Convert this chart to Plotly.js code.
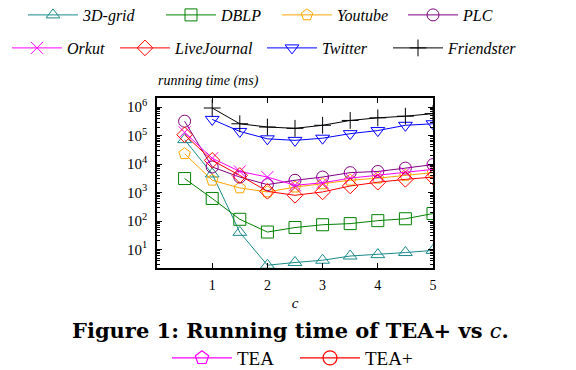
<!DOCTYPE html>
<html>
<head>
<meta charset="utf-8">
<script src="https://cdn.plot.ly/plotly-3.0.1.min.js"></script>
<style>html,body{margin:0;padding:0;background:#fff;}#chart{width:576px;height:370px;}</style>
</head>
<body>
<div id="chart"></div>
<script>
var xsAll = [0.5, 1, 1.5, 2, 2.5, 3, 3.5, 4, 4.5, 5];
var xsLarge = [1, 1.5, 2, 2.5, 3, 3.5, 4, 4.5, 5];

var grid3d      = [72000, 4500, 40, 2.8, 3.5, 4.2, 5.9, 6.6, 7.8, 9.3];
var dblp        = [3100, 620, 115, 41, 59, 74, 81, 103, 120, 183];
var youtube     = [23000, 2700, 1450, 1050, 1550, 2000, 2700, 3200, 4000, 5000];
var plc         = [320000, 7900, 3500, 1900, 2700, 3500, 5000, 5500, 7200, 9600];
var orkut       = [130000, 16000, 5500, 3500, 1800, 2200, 3200, 4000, 5200, 6500];
var livejournal = [107000, 13500, 4000, 1100, 800, 1050, 1700, 2300, 2900, 3500];
var twitter     = [370000, 140000, 77000, 68000, 81000, 117000, 150000, 230000, 260000];
var friendster  = [930000, 260000, 200000, 180000, 230000, 340000, 420000, 480000, 590000];

var yTickVals = [10, 100, 1000, 10000, 100000, 1000000];
var yTickText = ['10<sup>1</sup>', '10<sup>2</sup>', '10<sup>3</sup>', '10<sup>4</sup>', '10<sup>5</sup>', '10<sup>6</sup>'];
var xTickVals = [1, 2, 3, 4, 5];

var yMinorVals = [];
for (var e = 0; e <= 6; e++) {
  for (var m = 2; m <= 9; m++) yMinorVals.push(m * Math.pow(10, e));
}

var serif = '"Liberation Serif", "Times New Roman", serif';
var wideSerif = '"DejaVu Serif", "Liberation Serif", serif';

var series = [
  {name: '3D-grid', x: xsAll, y: grid3d, color: '#1a8a8a', symbol: 'triangle-up-open', legend: 'legend', lx: 28, ly: 15},
  {name: 'DBLP', x: xsAll, y: dblp, color: '#008000', symbol: 'square-open', legend: 'legend2', lx: 166, ly: 15},
  {name: 'Youtube', x: xsAll, y: youtube, color: '#ffa500', symbol: 'pentagon-open', legend: 'legend3', lx: 282, ly: 15},
  {name: 'PLC', x: xsAll, y: plc, color: '#800080', symbol: 'circle-open', legend: 'legend4', lx: 408, ly: 15},
  {name: 'Orkut', x: xsAll, y: orkut, color: '#ff00ff', symbol: 'x-thin-open', legend: 'legend5', lx: 12, ly: 48},
  {name: 'LiveJournal', x: xsAll, y: livejournal, color: '#ff0000', symbol: 'diamond-open', legend: 'legend6', lx: 120, ly: 48},
  {name: 'Twitter', x: xsLarge, y: twitter, color: '#0000ff', symbol: 'triangle-down-open', legend: 'legend7', lx: 267, ly: 48},
  {name: 'Friendster', x: xsLarge, y: friendster, color: '#000000', symbol: 'cross-thin-open', legend: 'legend8', lx: 393, ly: 48}
];

var W = 576, H = 370;
var ML = 157, MR = 143, MT = 98, MB = 102;
var PW = W - ML - MR, PH = H - MT - MB;
function px2paperX(px) { return (px - ML) / PW; }
function px2paperY(py) { return (H - MB - py) / PH; }

var traces = [];
var layout = {
  width: W, height: H,
  margin: {l: ML, r: MR, t: MT, b: MB, autoexpand: false},
  paper_bgcolor: '#fff', plot_bgcolor: '#fff',
  font: {family: serif, color: '#000', size: 14},
  xaxis: {
    type: 'linear', range: [0, 5],
    tickmode: 'array', tickvals: xTickVals,
    ticks: 'inside', ticklen: 5, tickwidth: 1, tickcolor: '#000',
    showline: true, linecolor: '#000', linewidth: 1.7, mirror: 'ticks',
    showgrid: false, zeroline: false, automargin: false,
    ticklabelstandoff: 3,
    tickfont: {family: serif, size: 14},
    title: {text: 'c', font: {family: serif, size: 15, style: 'italic'}, standoff: 6}
  },
  yaxis: {
    type: 'log', range: [0.35, 6.32],
    tickmode: 'array', tickvals: yTickVals, ticktext: yTickText,
    ticks: 'inside', ticklen: 5, tickwidth: 1, tickcolor: '#000',
    minor: {tickmode: 'array', tickvals: yMinorVals, ticks: 'inside', ticklen: 3, tickcolor: '#000', showgrid: false},
    showline: true, linecolor: '#000', linewidth: 1.7, mirror: 'ticks',
    showgrid: false, zeroline: false, automargin: false,
    ticklabelstandoff: 5,
    tickfont: {family: serif, size: 15}
  },
  annotations: [
    {text: 'running time (ms)', xref: 'paper', yref: 'paper', x: px2paperX(156), xanchor: 'left', y: px2paperY(81), yanchor: 'middle',
     showarrow: false, font: {family: serif, size: 14, style: 'italic'}},
    {text: '<b>Figure 1: Running time of TEA+ vs </b><i>c</i><b>.</b>', xref: 'paper', yref: 'paper', x: px2paperX(290), xanchor: 'center', y: px2paperY(330), yanchor: 'middle',
     showarrow: false, font: {family: wideSerif, size: 21}}
  ],
  showlegend: true
};

series.forEach(function (s) {
  traces.push({
    type: 'scatter', mode: 'lines+markers', name: s.name, x: s.x, y: s.y,
    line: {color: s.color, width: 1},
    marker: {symbol: s.symbol, size: 12, color: s.color, line: {width: 1, color: s.color}},
    legend: s.legend
  });
  layout[s.legend] = {
    xref: 'container', yref: 'container', x: (s.lx - 5) / W, xanchor: 'left', y: 1 - s.ly / H, yanchor: 'middle',
    bgcolor: 'rgba(0,0,0,0)', borderwidth: 0, itemwidth: 50,
    font: {family: serif, size: 16, style: 'italic'}
  };
});

// method legend (TEA / TEA+)
var methodNames = ['TEA', 'TEA+'];
var methodColors = ['#ff00ff', '#ff0000'];
var methodSymbols = ['pentagon-open', 'circle-open'];
var methodLx = [172, 300];
methodNames.forEach(function (n, i) {
  var lid = 'legend' + (9 + i);
  traces.push({
    type: 'scatter', mode: 'lines+markers', name: n, x: [null], y: [null],
    line: {color: methodColors[i], width: 1.2},
    marker: {symbol: methodSymbols[i], size: 14, color: methodColors[i], line: {width: 1.2, color: methodColors[i]}},
    legend: lid
  });
  layout[lid] = {
    xref: 'container', yref: 'container', x: (methodLx[i] - 5) / W, xanchor: 'left', y: 1 - 358 / H, yanchor: 'middle',
    bgcolor: 'rgba(0,0,0,0)', borderwidth: 0, itemwidth: 60,
    font: {family: serif, size: 19}
  };
});

Plotly.newPlot('chart', traces, layout, {displayModeBar: false, staticPlot: true});
</script>
</body>
</html>
